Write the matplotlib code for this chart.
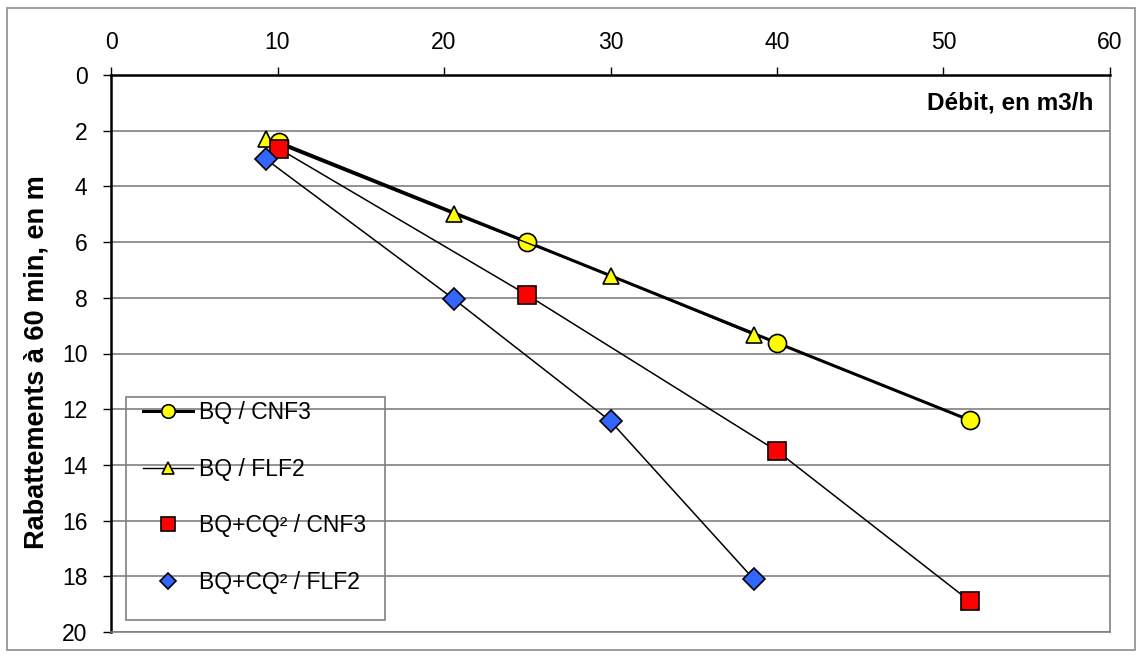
import matplotlib
matplotlib.use("Agg")
import matplotlib.pyplot as plt
from matplotlib.patches import Rectangle

plt.rcParams['font.family'] = ['Liberation Sans', 'DejaVu Sans']

# debit (m3/h) and rabattement (m)
q_cnf3 = [10.1, 25.0, 40.0, 51.6]
s_bq_cnf3 = [2.42, 6.0, 9.62, 12.4]
q_flf2 = [9.3, 20.6, 30.0, 38.6]
s_bq_flf2 = [2.3, 5.0, 7.2, 9.33]
s_bqcq_cnf3 = [2.65, 7.9, 13.5, 18.9]
s_bqcq_flf2 = [3.02, 8.05, 12.43, 18.1]

labels = ["BQ / CNF3", "BQ / FLF2", "BQ+CQ² / CNF3", "BQ+CQ² / FLF2"]
x_ticks = [0, 10, 20, 30, 40, 50, 60]
y_ticks = [0, 2, 4, 6, 8, 10, 12, 14, 16, 18, 20]

fig = plt.figure(figsize=(11.42, 6.57), dpi=100)
ax = fig.add_axes([111/1142, 1 - 632/657, (1110-111)/1142, (632-75)/657])

# outer frame
fig.patches.append(Rectangle((7/1142, 7/657), 1128/1142, 642/657, transform=fig.transFigure,
                             fill=False, edgecolor='#8c8c8c', lw=1.2))

for y in y_ticks[1:]:
    ax.axhline(y, color='#808080', lw=1.2, zorder=1)

# curves through the BQ+CQ² points (no legend line)
ax.plot(q_cnf3, s_bqcq_cnf3, color='black', lw=1.1, zorder=2)
ax.plot(q_flf2, s_bqcq_flf2, color='black', lw=1.1, zorder=2)

ax.plot(q_cnf3, s_bq_cnf3, color='black', lw=2.2, marker='o', ms=13, mfc='#FFFF00',
        mec='black', mew=1.2, label=labels[0], zorder=3)
ax.plot(q_flf2, s_bq_flf2, color='black', lw=1.0, marker='^', ms=12, mfc='#FFFF00',
        mec='black', mew=1.2, label=labels[1], zorder=3)
ax.plot(q_cnf3, s_bqcq_cnf3, ls='none', marker='s', ms=13, mfc='#FF0000',
        mec='black', mew=1.2, label=labels[2], zorder=4)
ax.plot(q_flf2, s_bqcq_flf2, ls='none', marker='D', ms=11, mfc='#3366FF',
        mec='black', mew=1.2, label=labels[3], zorder=4)

ax.set_xlim(0, 60)
ax.set_ylim(20, 0)
ax.set_xticks(x_ticks)
ax.set_yticks(y_ticks)
ax.xaxis.tick_top()
ax.tick_params(axis='both', labelsize=16.5, length=6, width=1, direction='out')
ax.tick_params(axis='x', pad=9)
ax.tick_params(axis='y', pad=11)

for side in ['top', 'left']:
    ax.spines[side].set_color('black')
    ax.spines[side].set_linewidth(1.8)
for side in ['right', 'bottom']:
    ax.spines[side].set_color('#808080')
    ax.spines[side].set_linewidth(1.2)

ax.set_ylabel("Rabattements à 60 min, en m", fontsize=19.5, fontweight='bold')
ax.yaxis.set_label_coords(-0.062, 0.485)
ax.text(0.983, 0.95, "Débit, en m3/h", transform=ax.transAxes, ha='right', va='center',
        fontsize=17.5, fontweight='bold')

# legend box drawn separately (taller at the bottom than at the top)
ax.add_patch(Rectangle((0.015, 0.0215), 0.259, 0.400, transform=ax.transAxes, fill=False,
                       edgecolor='#808080', lw=1.2, zorder=5))
leg = ax.legend(loc='upper left', bbox_to_anchor=(0.032, 0.415), fontsize=16.5, frameon=False,
                labelspacing=1.47, borderpad=0, handlelength=2.2, handletextpad=0.25,
                borderaxespad=0, markerscale=0.75)

fig.savefig("out.png", dpi=100)
